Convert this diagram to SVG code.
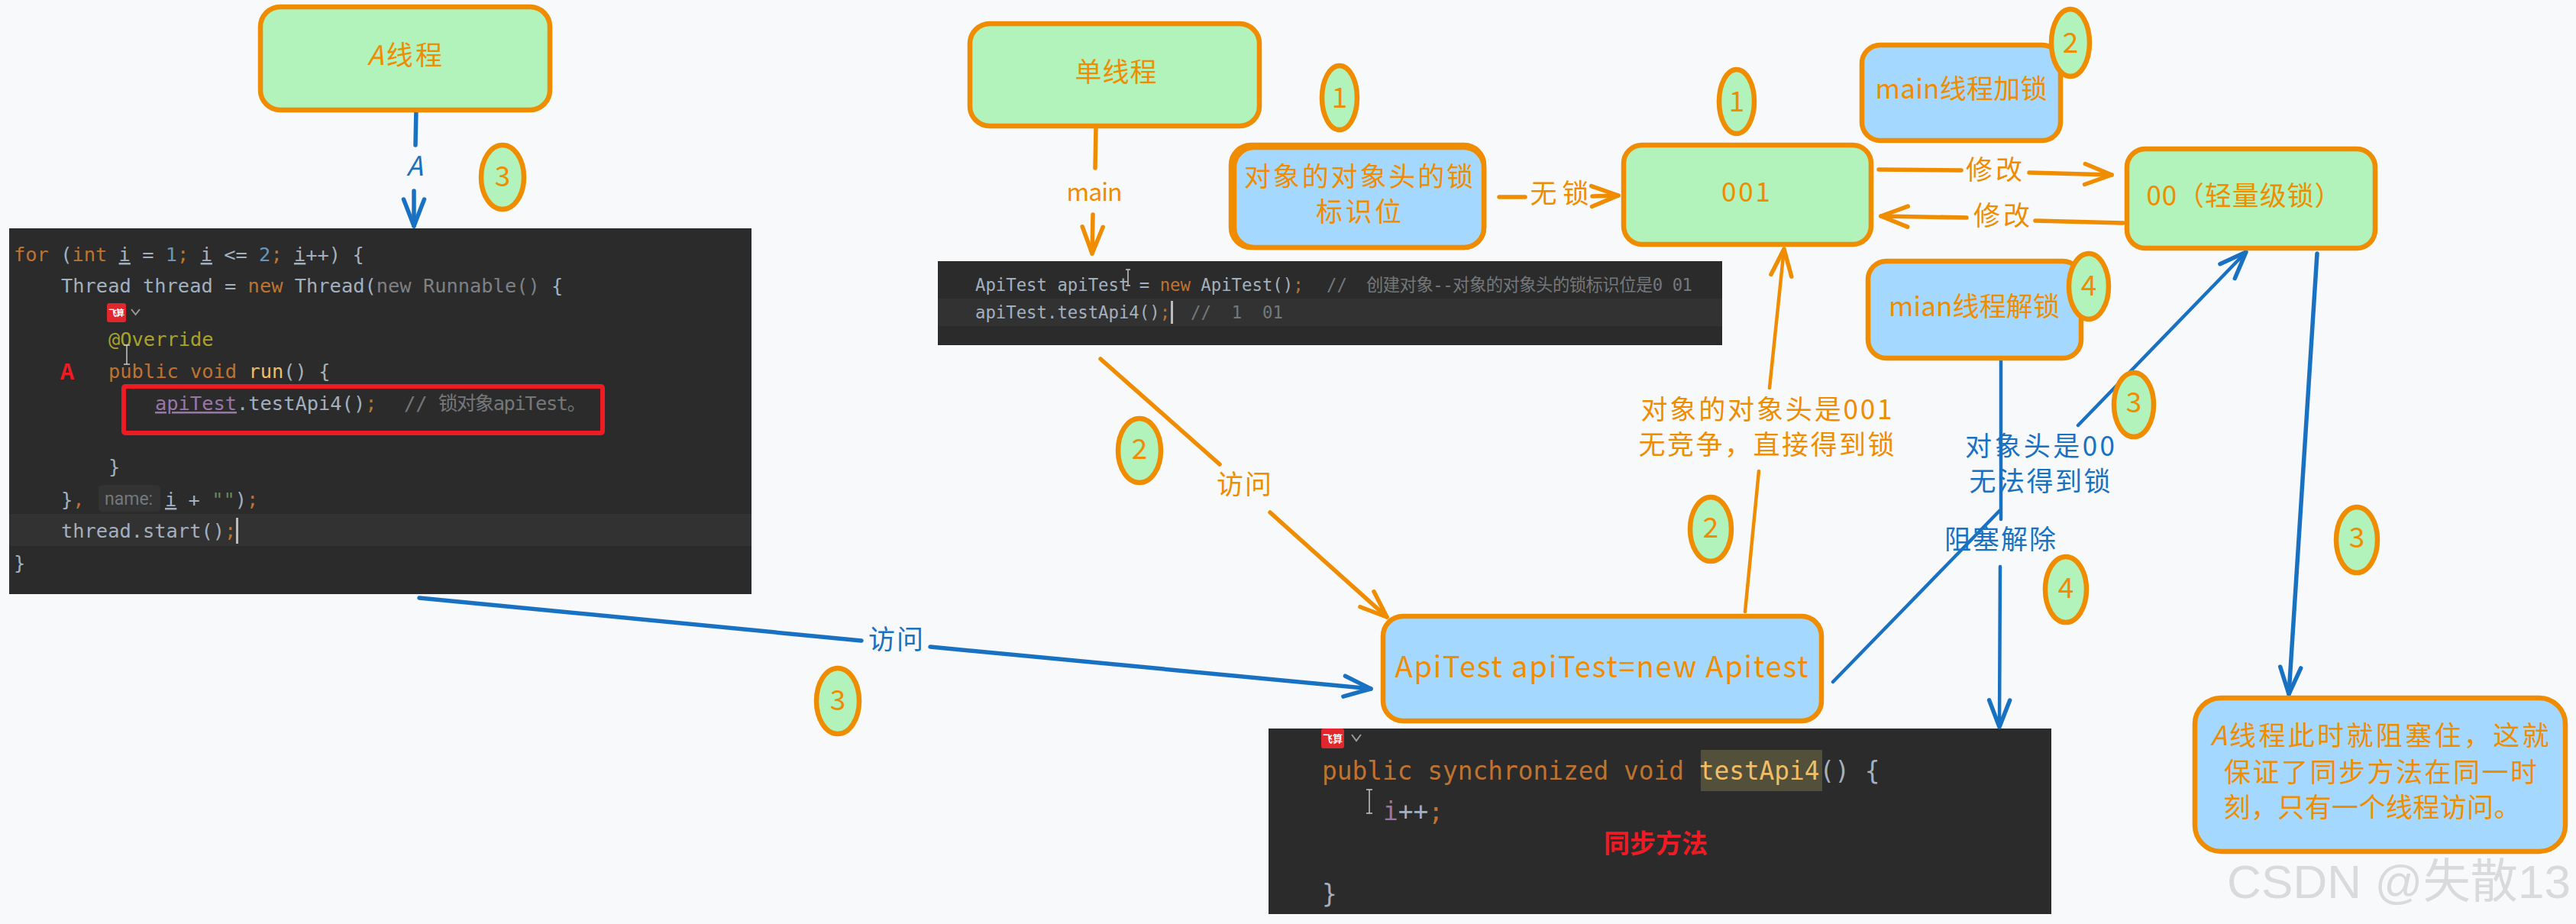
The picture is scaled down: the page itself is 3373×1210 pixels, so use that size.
<svg xmlns="http://www.w3.org/2000/svg" width="3373" height="1210" viewBox="0 0 3373 1210">
<style>
.bg{fill:#f8f9fb}
.g{fill:#b2f2bb;stroke:#f08c00;stroke-width:6.500}
.b{fill:#a5d8ff;stroke:#f08c00;stroke-width:6.500}
.t{font-family:"Noto Sans CJK SC","Noto Sans",sans-serif;font-size:35px;fill:#f08c00;text-anchor:middle}
.tb{fill:#1971c2}
.n{font-size:37px}
.co{fill:none;stroke:#f08c00;stroke-width:5.500;stroke-linecap:round}
.cb{fill:none;stroke:#1971c2;stroke-width:5.500;stroke-linecap:round}
.thin{stroke-width:4.500}
.code{fill:#2b2b2b}
.cur{fill:#323232}
.m{font-family:"DejaVu Sans Mono","Noto Sans CJK SC",monospace;fill:#a3b0bf}
.m1{font-size:25.4px}
.m2{font-size:22.3px}
.m3{font-size:32.8px}
.k{fill:#bf7330}
.num{fill:#6897bb}
.c{fill:#75787b}
.p{fill:#9876aa}
.s{fill:#6a8759}
.y{fill:#f0bd68}
.v{text-decoration:underline}
.red{font-family:"Noto Sans CJK SC",sans-serif;font-weight:700;fill:#ed1c24}
.ib{fill:none;stroke:#c8c8c8;stroke-width:1.500}
.chev{fill:none;stroke:#9a9a9a;stroke-width:2}
.ico{font-family:"Noto Sans CJK SC",sans-serif;font-size:11px;fill:#fff;text-anchor:middle;font-weight:700}
</style>
<defs>
<marker id="ao" markerUnits="userSpaceOnUse" markerWidth="60" markerHeight="40" refX="48" refY="20" orient="auto" overflow="visible"><path d="M13 6.500L48 20L13 33.500" fill="none" stroke="#f08c00" stroke-width="5.500" stroke-linecap="round" stroke-linejoin="round"/></marker>
<marker id="ab" markerUnits="userSpaceOnUse" markerWidth="60" markerHeight="40" refX="48" refY="20" orient="auto" overflow="visible"><path d="M13 6.500L48 20L13 33.500" fill="none" stroke="#1971c2" stroke-width="5.500" stroke-linecap="round" stroke-linejoin="round"/></marker>
</defs>
<rect class="bg" width="3373" height="1210"/>

<g id="code-thread">
<rect class="code" x="12" y="299" width="972" height="479"/>
<rect class="cur" x="12" y="673" width="972" height="42"/>
<text class="m m1" x="18" y="342" xml:space="preserve"><tspan class="k">for</tspan> (<tspan class="k">int</tspan> <tspan class="v">i</tspan> = <tspan class="num">1</tspan><tspan class="k">;</tspan> <tspan class="v">i</tspan> &lt;= <tspan class="num">2</tspan><tspan class="k">;</tspan> <tspan class="v">i</tspan>++) {</text>
<text class="m m1" x="80" y="383" xml:space="preserve">Thread thread = <tspan class="k">new</tspan> Thread(<tspan fill="#7d8084">new Runnable()</tspan> {</text>
<rect x="140" y="397" width="25" height="25" rx="3" fill="#e0272d"/>
<text class="ico" x="152.500" y="414" textLength="21">飞算</text>
<path class="chev" d="M172 405l5.500 7l5.500-7"/>
<text class="m m1" x="142" y="453" style="fill:#a8a32a">@Override</text>
<path class="ib" d="M166 452V477M162 452h8M162 477h8"/>
<text class="red" x="79" y="497" font-size="28">A</text>
<text class="m m1" x="142" y="495" xml:space="preserve"><tspan class="k">public void</tspan> <tspan class="y">run</tspan>() {</text>
<rect x="162" y="506" width="627" height="61" rx="2" fill="none" stroke="#ed1c24" stroke-width="6"/>
<text class="m m1" x="203" y="537" xml:space="preserve"><tspan class="p v">apiTest</tspan>.testApi4()<tspan class="k">;</tspan></text>
<text class="m m1 c" x="529" y="537">//</text>
<text class="m m1 c" x="574" y="537" textLength="194">锁对象apiTest。</text>
<text class="m m1" x="142" y="620">}</text>
<text class="m m1" x="80" y="663">}<tspan class="k">,</tspan></text>
<rect x="129" y="635" width="81" height="35" rx="5" fill="#333"/>
<text class="c" x="137" y="661" font-family="Roboto,sans-serif" font-size="23">name:</text>
<text class="m m1" x="216" y="663" xml:space="preserve"><tspan class="v">i</tspan> + <tspan class="s">""</tspan>)<tspan class="k">;</tspan></text>
<text class="m m1" x="80" y="704">thread.start()<tspan class="k">;</tspan></text>
<rect x="309" y="678" width="3" height="34" fill="#bbb"/>
<text class="m m1" x="18" y="746">}</text>
</g>

<g id="code-main">
<rect class="code" x="1228" y="342" width="1027" height="110"/>
<rect class="cur" x="1228" y="391" width="1027" height="36"/>
<text class="m m2" x="1277" y="381" xml:space="preserve">ApiTest apiTest = <tspan class="k">new</tspan> ApiTest()<tspan class="k">;</tspan></text>
<text class="m m2 c" x="1737" y="381">//</text>
<text class="m m2 c" x="1789" y="381" textLength="427">创建对象--对象的对象头的锁标识位是0 01</text>
<path class="ib" d="M1477 353V374M1474 353h6M1474 374h6"/>
<text class="m m2" x="1277" y="417">apiTest.testApi4()<tspan class="k">;</tspan></text>
<rect x="1533" y="394" width="3" height="30" fill="#bbb"/>
<text class="m m2 c" x="1559" y="417" xml:space="preserve">//  1  01</text>
</g>

<g id="code-method">
<rect class="code" x="1661" y="954" width="1025" height="243"/>
<rect x="1730" y="954" width="30" height="26" rx="3" fill="#e0272d"/>
<text class="ico" x="1745" y="972" style="font-size:13px" textLength="26">飞算</text>
<path class="chev" d="M1770 962l6 8l6-8"/>
<rect x="2227" y="982" width="159" height="54" fill="#52503a"/>
<text class="m m3" x="1731" y="1021" xml:space="preserve"><tspan class="k">public synchronized void</tspan> <tspan class="y">testApi4</tspan>() {</text>
<path class="ib" d="M1793 1034V1065M1789 1034h8M1789 1065h8"/>
<text class="m m3" x="1811" y="1074"><tspan class="p">i</tspan>++<tspan class="k">;</tspan></text>
<text class="red" x="2100" y="1117" font-size="34">同步方法</text>
<text class="m m3" x="1731" y="1182">}</text>
</g>

<g id="connectors">
<path class="cb" d="M545 142L544 190"/>
<path class="cb" d="M542 250L542 296" marker-end="url(#ab)"/>
<path class="co" d="M1435 168L1434 220"/>
<path class="co" d="M1431 281L1430 332" marker-end="url(#ao)"/>
<path class="co" d="M1441 470L1597 608"/>
<path class="co" d="M1663 671L1816 808" marker-end="url(#ao)"/>
<path class="cb" d="M549 783L1128 839"/>
<path class="cb" d="M1218 847L1795 902" marker-end="url(#ab)"/>
<path class="co" d="M1963 258L1997 258"/>
<path class="co" d="M2085 257L2119 256" marker-end="url(#ao)"/>
<path class="co" d="M2460 222L2568 223"/>
<path class="co" d="M2657 226L2765 229" marker-end="url(#ao)"/>
<path class="co" d="M2780 292L2665 289"/>
<path class="co" d="M2575 285L2463 283" marker-end="url(#ao)"/>
<path class="co thin" d="M2285 801L2303 617"/>
<path class="co thin" d="M2317 508L2336 326" marker-end="url(#ao)"/>
<path class="cb thin" d="M2620 472L2620 680"/>
<path class="cb thin" d="M2619 742L2618 952" marker-end="url(#ab)"/>
<path class="cb thin" d="M2400 893L2618 669"/>
<path class="cb thin" d="M2721 557L2941 330" marker-end="url(#ab)"/>
<path class="cb" d="M3034 332L2997 909" marker-end="url(#ab)"/>
<text class="t tb" x="543" y="230" font-style="italic">A</text>
<text class="t" x="1433" y="263" style="font-size:32px" textLength="73">main</text>
<text class="t" x="1629" y="647" textLength="72">访问</text>
<text class="t tb" x="1173" y="850" textLength="72">访问</text>
<text class="t" x="2042" y="266" textLength="77">无锁</text>
<text class="t" x="2611" y="235" textLength="74">修改</text>
<text class="t" x="2621" y="295" textLength="74">修改</text>
<text class="t" x="2313" y="549" textLength="329">对象的对象头是001</text>
<text class="t" x="2313" y="595" textLength="335">无竞争，直接得到锁</text>
<text class="t tb" x="2671" y="597" textLength="196">对象头是00</text>
<text class="t tb" x="2671" y="643" textLength="185">无法得到锁</text>
<text class="t tb" x="2619" y="719" textLength="146">阻塞解除</text>
</g>

<g id="node-a-thread"><rect class="g" x="341" y="9" width="379" height="135" rx="26"/><text class="t" x="530" y="85" textLength="98"><tspan font-style="italic">A</tspan>线程</text></g>
<g id="node-single-thread"><rect class="g" x="1270" y="31" width="379" height="134" rx="26"/><text class="t" x="1461" y="107" textLength="107">单线程</text></g>
<g id="node-lock-bits"><rect class="b" x="1612" y="190" width="331" height="134" rx="26"/><rect class="b" x="1616" y="193" width="327" height="131" rx="26"/><text class="t" x="1779" y="244" textLength="300">对象的对象头的锁</text><text class="t" x="1779" y="290" textLength="112">标识位</text></g>
<g id="node-001"><rect class="g" x="2126" y="190" width="324" height="130" rx="24"/><text class="t" x="2286" y="264" textLength="64">001</text></g>
<g id="node-main-lock"><rect class="b" x="2438" y="59" width="260" height="125" rx="24"/><text class="t" x="2568" y="129" textLength="225">main线程加锁</text></g>
<g id="node-00"><rect class="g" x="2785" y="195" width="325" height="130" rx="24"/><text class="t" x="2938" y="269" textLength="255">00（轻量级锁）</text></g>
<g id="node-main-unlock"><rect class="b" x="2446" y="342" width="279" height="127" rx="24"/><text class="t" x="2585" y="414" textLength="224">mian线程解锁</text></g>
<g id="node-apitest"><rect class="b" x="1811" y="807" width="574" height="137" rx="26"/><text class="t" x="2097" y="887" style="font-size:38px" textLength="541">ApiTest apiTest=new Apitest</text></g>
<g id="node-blocked"><rect class="b" x="2874" y="914" width="485" height="201" rx="34"/><text class="t" x="3116" y="976" textLength="443"><tspan font-style="italic">A</tspan>线程此时就阻塞住，这就</text><text class="t" x="3117" y="1024" textLength="410">保证了同步方法在同一时</text><text class="t" x="3106" y="1070" textLength="389">刻，只有一个线程访问。</text></g>

<g id="step-1a"><ellipse class="g" cx="1754" cy="128" rx="23" ry="42"/><text class="t n" x="1754" y="141">1</text></g>
<g id="step-1b"><ellipse class="g" cx="2274" cy="133" rx="23" ry="42"/><text class="t n" x="2274" y="146">1</text></g>
<g id="step-2a"><ellipse class="g" cx="2711" cy="56" rx="25" ry="44"/><text class="t n" x="2711" y="69">2</text></g>
<g id="step-2b"><ellipse class="g" cx="1492" cy="590" rx="28" ry="42"/><text class="t n" x="1492" y="601">2</text></g>
<g id="step-2c"><ellipse class="g" cx="2240" cy="693" rx="27" ry="42"/><text class="t n" x="2240" y="704">2</text></g>
<g id="step-3a"><ellipse class="g" cx="658" cy="232" rx="28" ry="42"/><text class="t n" x="658" y="244">3</text></g>
<g id="step-3b"><ellipse class="g" cx="1097" cy="918" rx="28" ry="43"/><text class="t n" x="1097" y="930">3</text></g>
<g id="step-3c"><ellipse class="g" cx="2794" cy="530" rx="26" ry="42"/><text class="t n" x="2794" y="540">3</text></g>
<g id="step-3d"><ellipse class="g" cx="3086" cy="707" rx="27" ry="43"/><text class="t n" x="3086" y="717">3</text></g>
<g id="step-4a"><ellipse class="g" cx="2735" cy="375" rx="26" ry="43"/><text class="t n" x="2735" y="387">4</text></g>
<g id="step-4b"><ellipse class="g" cx="2705" cy="772" rx="27" ry="43"/><text class="t n" x="2705" y="783">4</text></g>

<text x="2916" y="1176" font-family="'Liberation Sans','Noto Sans CJK SC',sans-serif" font-size="62" fill="#d8dadc" textLength="450">CSDN @失散13</text>
</svg>
